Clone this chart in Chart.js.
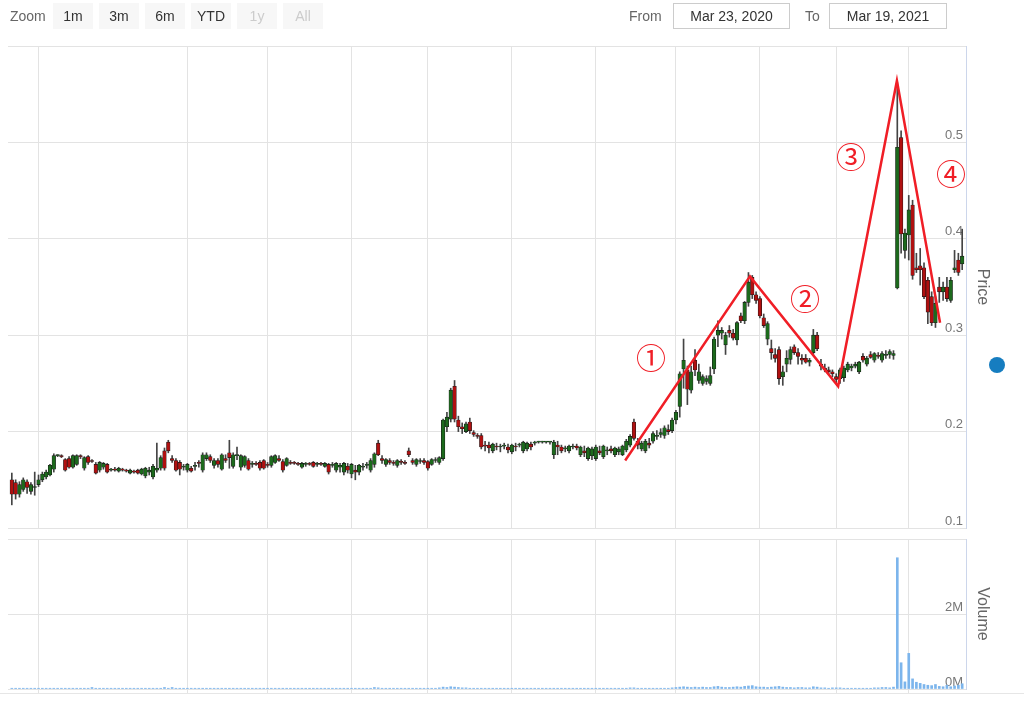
<!DOCTYPE html>
<html>
<head>
<meta charset="utf-8">
<script src="https://cdn.jsdelivr.net/npm/chart.js@4.4.1/dist/chart.umd.min.js"></script>
<style>
  body { margin: 0; background: #fff; font-family: "Liberation Sans", Arial, sans-serif; }
  #wrap { position: relative; width: 1024px; height: 706px; overflow: hidden; }
  canvas { position: absolute; left: 0; }
  .lbl { position: absolute; top: 3px; height: 26px; line-height: 26px; font-size: 14px; color: #666; }
  .btn { position: absolute; top: 3px; width: 40px; height: 26px; line-height: 26px; font-size: 14px;
         text-align: center; background: #f7f7f7; color: #333; }
  .btn.off { color: #ccc; }
  .box { position: absolute; top: 3px; height: 24px; line-height: 24px; font-size: 14px; color: #333;
         text-align: center; border: 1px solid #ccc; background: #fff; }
  #baseLine { position: absolute; left: 0; top: 693px; width: 1024px; height: 1px; background: #e6e6e6; }
  #dot { position: absolute; left: 989px; top: 357px; width: 16px; height: 16px; border-radius: 50%; background: #167dc0; }
</style>
</head>
<body>
<div id="wrap">
  <canvas id="priceChart" width="1024" height="530" style="top:0"></canvas>
  <canvas id="volumeChart" width="1024" height="176" style="top:530px"></canvas>
  <div id="baseLine"></div>
  <div id="dot"></div>

  <div class="lbl" style="left:10px">Zoom</div>
  <div class="btn" style="left:53px">1m</div>
  <div class="btn" style="left:99px">3m</div>
  <div class="btn" style="left:145px">6m</div>
  <div class="btn" style="left:191px">YTD</div>
  <div class="btn off" style="left:237px">1y</div>
  <div class="btn off" style="left:283px">All</div>

  <div class="lbl" style="left:629px">From</div>
  <div class="box" style="left:673px;width:115px">Mar 23, 2020</div>
  <div class="lbl" style="left:805px">To</div>
  <div class="box" style="left:829px;width:116px">Mar 19, 2021</div>
</div>

<script>
// ----------------------
// DATA
// ----------------------
// one row per trading day: [open, high, low, close]
const ohlc = [
  [0.150,0.157,0.124,0.135],[0.147,0.150,0.130,0.135],[0.135,0.148,0.132,0.145],[0.140,0.152,0.138,0.150],[0.148,0.150,0.136,0.142],
  [0.138,0.147,0.135,0.145],[0.142,0.158,0.134,0.143],[0.145,0.155,0.143,0.150],[0.150,0.158,0.148,0.156],[0.153,0.160,0.151,0.158],
  [0.155,0.166,0.154,0.165],[0.161,0.177,0.158,0.175],[0.175,0.176,0.174,0.175],[0.175,0.176,0.173,0.174],[0.171,0.172,0.159,0.160],
  [0.172,0.174,0.162,0.163],[0.163,0.176,0.162,0.175],[0.166,0.176,0.165,0.175],[0.175,0.176,0.172,0.174],[0.162,0.174,0.160,0.173],
  [0.174,0.175,0.166,0.168],[0.170,0.171,0.168,0.169],[0.166,0.168,0.156,0.157],[0.160,0.169,0.158,0.168],[0.163,0.168,0.161,0.167],
  [0.166,0.167,0.157,0.158],[0.160,0.162,0.159,0.161],[0.161,0.163,0.159,0.160],[0.159,0.163,0.158,0.162],[0.161,0.162,0.159,0.160],
  [0.160,0.161,0.158,0.159],[0.157,0.161,0.156,0.160],[0.159,0.160,0.157,0.158],[0.160,0.161,0.156,0.157],[0.156,0.162,0.155,0.161],
  [0.154,0.163,0.152,0.162],[0.158,0.163,0.155,0.160],[0.153,0.166,0.151,0.164],[0.160,0.188,0.158,0.162],[0.162,0.175,0.160,0.173],
  [0.180,0.183,0.160,0.162],[0.189,0.191,0.178,0.180],[0.172,0.175,0.168,0.170],[0.170,0.172,0.159,0.160],[0.168,0.170,0.155,0.161],
  [0.163,0.166,0.160,0.164],[0.160,0.167,0.158,0.166],[0.162,0.164,0.158,0.159],[0.164,0.168,0.160,0.165],[0.168,0.170,0.163,0.167],
  [0.160,0.178,0.158,0.176],[0.172,0.178,0.170,0.176],[0.174,0.176,0.168,0.170],[0.165,0.172,0.162,0.170],[0.170,0.172,0.163,0.166],
  [0.161,0.177,0.160,0.176],[0.172,0.176,0.168,0.170],[0.178,0.191,0.162,0.173],[0.164,0.178,0.162,0.176],[0.175,0.184,0.171,0.176],
  [0.163,0.176,0.160,0.175],[0.165,0.175,0.163,0.174],[0.170,0.172,0.160,0.161],[0.166,0.169,0.163,0.167],[0.167,0.169,0.165,0.166],
  [0.168,0.170,0.160,0.162],[0.170,0.171,0.161,0.162],[0.166,0.168,0.163,0.165],[0.165,0.175,0.163,0.174],[0.168,0.176,0.167,0.175],
  [0.172,0.175,0.169,0.170],[0.169,0.171,0.158,0.160],[0.165,0.173,0.164,0.172],[0.168,0.170,0.166,0.167],[0.168,0.169,0.166,0.167],
  [0.167,0.168,0.165,0.166],[0.163,0.168,0.162,0.167],[0.166,0.168,0.164,0.167],[0.167,0.168,0.165,0.166],[0.168,0.169,0.163,0.164],
  [0.166,0.168,0.164,0.167],[0.167,0.168,0.165,0.166],[0.164,0.168,0.163,0.167],[0.166,0.167,0.156,0.158],[0.165,0.168,0.163,0.166],
  [0.160,0.168,0.158,0.167],[0.163,0.167,0.158,0.165],[0.158,0.168,0.155,0.167],[0.164,0.167,0.157,0.160],[0.156,0.167,0.152,0.166],
  [0.160,0.165,0.150,0.158],[0.158,0.166,0.155,0.165],[0.163,0.167,0.160,0.164],[0.165,0.168,0.162,0.166],[0.160,0.172,0.158,0.170],
  [0.166,0.178,0.163,0.177],[0.188,0.191,0.175,0.176],[0.172,0.175,0.167,0.170],[0.166,0.172,0.164,0.171],[0.170,0.172,0.166,0.168],
  [0.168,0.170,0.165,0.167],[0.165,0.171,0.163,0.170],[0.169,0.171,0.166,0.168],[0.168,0.170,0.166,0.167],[0.180,0.183,0.174,0.176],
  [0.170,0.172,0.166,0.168],[0.166,0.172,0.164,0.171],[0.169,0.172,0.167,0.170],[0.170,0.172,0.166,0.168],[0.169,0.170,0.160,0.162],
  [0.166,0.172,0.165,0.171],[0.170,0.173,0.168,0.171],[0.168,0.174,0.166,0.173],[0.172,0.213,0.170,0.212],[0.205,0.220,0.200,0.215],
  [0.213,0.245,0.210,0.243],[0.247,0.253,0.210,0.213],[0.212,0.216,0.200,0.205],[0.205,0.209,0.198,0.203],[0.200,0.210,0.199,0.208],
  [0.210,0.214,0.198,0.201],[0.199,0.201,0.195,0.197],[0.196,0.198,0.193,0.195],[0.196,0.198,0.182,0.184],[0.186,0.190,0.180,0.185],
  [0.186,0.189,0.178,0.183],[0.180,0.188,0.178,0.187],[0.185,0.188,0.181,0.184],[0.184,0.187,0.179,0.185],[0.185,0.188,0.182,0.186],
  [0.184,0.187,0.178,0.181],[0.179,0.187,0.177,0.186],[0.185,0.188,0.180,0.184],[0.186,0.188,0.184,0.187],[0.180,0.190,0.178,0.189],
  [0.182,0.189,0.180,0.188],[0.187,0.189,0.181,0.184],[0.188,0.190,0.186,0.189],[0.189,0.190,0.188,0.189],[0.189,0.190,0.188,0.189],
  [0.189,0.190,0.188,0.190],[0.189,0.190,0.187,0.189],[0.176,0.191,0.172,0.189],[0.186,0.190,0.176,0.184],[0.184,0.186,0.178,0.180],
  [0.182,0.185,0.179,0.183],[0.180,0.186,0.178,0.185],[0.184,0.187,0.182,0.185],[0.185,0.187,0.181,0.183],[0.176,0.185,0.174,0.184],
  [0.180,0.185,0.174,0.178],[0.172,0.184,0.170,0.183],[0.175,0.184,0.171,0.182],[0.172,0.186,0.170,0.184],[0.180,0.185,0.176,0.178],
  [0.174,0.186,0.172,0.185],[0.180,0.184,0.176,0.181],[0.182,0.185,0.178,0.180],[0.176,0.184,0.174,0.183],[0.179,0.184,0.176,0.182],
  [0.176,0.186,0.175,0.185],[0.181,0.192,0.179,0.190],[0.186,0.197,0.184,0.195],[0.210,0.213,0.191,0.193],[0.190,0.193,0.182,0.186],
  [0.182,0.190,0.180,0.188],[0.180,0.192,0.178,0.190],[0.188,0.193,0.183,0.186],[0.190,0.200,0.188,0.198],[0.195,0.201,0.192,0.196],
  [0.197,0.203,0.194,0.199],[0.196,0.206,0.193,0.204],[0.202,0.207,0.197,0.200],[0.201,0.214,0.199,0.212],[0.212,0.222,0.208,0.220],
  [0.226,0.262,0.215,0.260],[0.265,0.296,0.245,0.274],[0.264,0.268,0.228,0.244],[0.243,0.268,0.240,0.262],[0.274,0.285,0.258,0.264],
  [0.253,0.270,0.250,0.262],[0.250,0.259,0.248,0.257],[0.252,0.258,0.249,0.255],[0.250,0.267,0.248,0.258],[0.265,0.298,0.260,0.296],
  [0.300,0.315,0.288,0.305],[0.302,0.308,0.296,0.305],[0.290,0.303,0.280,0.300],[0.305,0.310,0.298,0.302],[0.302,0.306,0.295,0.297],
  [0.295,0.314,0.290,0.313],[0.320,0.323,0.313,0.315],[0.315,0.335,0.312,0.334],[0.334,0.365,0.330,0.355],[0.360,0.362,0.338,0.342],
  [0.342,0.345,0.333,0.336],[0.338,0.340,0.318,0.320],[0.318,0.322,0.308,0.310],[0.296,0.314,0.290,0.312],[0.286,0.295,0.275,0.282],
  [0.280,0.286,0.272,0.276],[0.285,0.288,0.249,0.255],[0.257,0.268,0.248,0.262],[0.270,0.284,0.262,0.276],[0.275,0.288,0.270,0.285],
  [0.288,0.290,0.280,0.282],[0.282,0.286,0.270,0.278],[0.276,0.280,0.270,0.274],[0.276,0.280,0.271,0.272],[0.272,0.276,0.268,0.274],
  [0.282,0.306,0.280,0.300],[0.300,0.303,0.284,0.286],[0.270,0.275,0.264,0.268],[0.266,0.270,0.262,0.264],[0.264,0.267,0.260,0.262],
  [0.262,0.264,0.257,0.260],[0.257,0.260,0.250,0.254],[0.255,0.266,0.250,0.264],[0.256,0.268,0.252,0.266],[0.264,0.272,0.262,0.270],
  [0.266,0.270,0.263,0.268],[0.268,0.272,0.266,0.270],[0.262,0.273,0.260,0.272],[0.278,0.281,0.272,0.274],[0.270,0.278,0.268,0.276],
  [0.280,0.283,0.276,0.277],[0.274,0.282,0.272,0.281],[0.279,0.282,0.276,0.278],[0.274,0.283,0.272,0.281],[0.279,0.284,0.276,0.280],
  [0.280,0.285,0.276,0.283],[0.279,0.284,0.275,0.281],[0.349,0.562,0.348,0.495],[0.505,0.512,0.385,0.405],[0.388,0.410,0.380,0.406],
  [0.404,0.445,0.378,0.430],[0.435,0.440,0.358,0.362],[0.370,0.385,0.365,0.368],[0.372,0.390,0.352,0.368],[0.370,0.375,0.338,0.340],
  [0.357,0.360,0.312,0.324],[0.340,0.345,0.310,0.313],[0.313,0.340,0.308,0.333],[0.350,0.360,0.334,0.345],[0.345,0.355,0.336,0.350],
  [0.350,0.360,0.335,0.338],[0.336,0.360,0.334,0.357],[0.368,0.388,0.365,0.370],[0.378,0.385,0.362,0.365],[0.374,0.410,0.368,0.382]
];

// daily volume, millions
const volumes = [
  0.02,0.02,0.02,0.02,0.02,0.02,0.02,0.02,0.02,0.02,
  0.02,0.02,0.02,0.02,0.02,0.02,0.02,0.02,0.02,0.02,
  0.02,0.04,0.02,0.02,0.02,0.02,0.02,0.02,0.02,0.02,
  0.02,0.02,0.02,0.02,0.02,0.02,0.02,0.02,0.02,0.02,
  0.04,0.02,0.04,0.02,0.02,0.02,0.02,0.02,0.02,0.02,
  0.02,0.02,0.02,0.02,0.02,0.02,0.02,0.02,0.02,0.02,
  0.02,0.02,0.02,0.02,0.02,0.02,0.02,0.02,0.02,0.02,
  0.02,0.02,0.02,0.02,0.02,0.02,0.02,0.02,0.02,0.02,
  0.02,0.02,0.02,0.02,0.02,0.02,0.02,0.02,0.02,0.02,
  0.02,0.02,0.02,0.02,0.02,0.04,0.03,0.02,0.02,0.02,
  0.02,0.02,0.02,0.02,0.02,0.02,0.02,0.02,0.02,0.02,
  0.02,0.02,0.03,0.05,0.04,0.06,0.05,0.04,0.03,0.03,
  0.02,0.02,0.02,0.02,0.02,0.02,0.02,0.02,0.02,0.02,
  0.02,0.02,0.02,0.02,0.02,0.02,0.02,0.02,0.02,0.02,
  0.02,0.02,0.02,0.02,0.02,0.02,0.02,0.02,0.02,0.02,
  0.02,0.02,0.02,0.02,0.02,0.02,0.02,0.02,0.02,0.02,
  0.02,0.02,0.03,0.03,0.02,0.02,0.02,0.02,0.02,0.02,
  0.02,0.02,0.02,0.03,0.04,0.05,0.06,0.05,0.04,0.05,
  0.04,0.05,0.04,0.04,0.06,0.07,0.05,0.04,0.04,0.05,
  0.06,0.05,0.07,0.08,0.09,0.06,0.05,0.05,0.04,0.05,
  0.06,0.07,0.05,0.04,0.04,0.03,0.04,0.04,0.03,0.03,
  0.06,0.05,0.03,0.03,0.02,0.03,0.03,0.03,0.02,0.02,
  0.02,0.02,0.02,0.02,0.02,0.02,0.03,0.03,0.04,0.04,
  0.03,0.05,3.50,0.70,0.19,0.95,0.27,0.18,0.15,0.12,
  0.10,0.09,0.12,0.07,0.06,0.10,0.06,0.08,0.10,0.14
];

// day index of each vertical grid line (month starts)
const gridIdx = [7, 46, 67, 89, 109, 131, 153, 174, 196, 216, 235];
const priceTicks = [0.1, 0.2, 0.3, 0.4, 0.5, 0.6];
const volumeTicks = [0, 2, 4];

// hand drawn red zigzag and its circled labels
const zigIdx = [160.7, 193.4, 216.5, 231.9, 243.2];
const zigPrice = [0.170, 0.361, 0.247, 0.564, 0.313];
const markLabels = ["①", "②", "③", "④"];
const markIdx = [167.5, 207.8, 219.9, 246.1];
const markPrice = [0.277, 0.338, 0.485, 0.468];

// ----------------------
// STYLE
// ----------------------
const GRID = "#e3e3e3";
const AXIS_LINE = "#ccd6eb";
const UP = "#1c6a1c";
const DOWN = "#b01010";
const RED = "#f01e26";
const labelFont = { family: "Liberation Sans", size: 13 };
const titleFont = { family: "Liberation Sans", size: 16 };

function xScale(showTicks) {
  return {
    type: "linear",
    min: -1,
    max: ohlc.length,
    offset: false,
    afterBuildTicks: s => { s.ticks = gridIdx.map(v => ({ value: v })); },
    afterFit: s => { s.height = showTicks ? 4 : 0; },
    ticks: { display: false },
    grid: { color: GRID, offset: false, drawTicks: showTicks, tickLength: 4 },
    border: { display: false }
  };
}

// right axis, labels drawn inside the plot just left of the axis line
function yAxis(min, max, ticks, fmt, title) {
  return {
    type: "linear",
    position: "right",
    min,
    max,
    afterBuildTicks: s => { s.ticks = ticks.map(v => ({ value: v })); },
    afterFit: s => {
      s.width = 58;
      s.paddingTop = 0;
      s.paddingBottom = 0;
    },
    grid: { color: GRID, drawTicks: false },
    border: { display: true, color: AXIS_LINE },
    ticks: { mirror: true, padding: -3, labelOffset: -7, color: "#777", font: labelFont, callback: fmt },
    title: { display: true, text: title, color: "#666", font: titleFont, padding: { top: 32, bottom: 0 } }
  };
}

// circled numbers next to the zigzag
const markPlugin = {
  id: "marks",
  afterDatasetsDraw(chart) {
    const { ctx, scales: { x, y } } = chart;
    ctx.save();
    ctx.font = '30px "Noto Sans CJK JP"';
    ctx.fillStyle = RED;
    ctx.textAlign = "center";
    ctx.textBaseline = "middle";
    markLabels.forEach((t, k) => {
      ctx.fillText(t, x.getPixelForValue(markIdx[k]), y.getPixelForValue(markPrice[k]));
    });
    ctx.restore();
  }
};

// ----------------------
// PRICE CHART
// ----------------------
new Chart(document.getElementById("priceChart"), {
  type: "bar",
  data: {
    datasets: [
      {
        type: "line",
        data: zigIdx.map((v, k) => ({ x: v, y: zigPrice[k] })),
        borderColor: RED,
        borderWidth: 2.5,
        pointRadius: 0,
        tension: 0,
        order: 0
      },
      {
        data: ohlc.map((c, i) => ({ x: i, y: [c[0], c[3]] })),
        backgroundColor: ohlc.map(c => c[3] >= c[0] ? UP : DOWN),
        borderColor: "#1a1a1a",
        borderWidth: 0.6,
        borderSkipped: false,
        barThickness: 3.6,
        minBarLength: 1,
        grouped: false,
        order: 1
      },
      {
        data: ohlc.map((c, i) => ({ x: i, y: [c[2], c[1]] })),
        backgroundColor: "#444",
        barThickness: 1,
        grouped: false,
        order: 2
      }
    ]
  },
  options: {
    responsive: false,
    animation: false,
    devicePixelRatio: 1,
    layout: { padding: { left: 8, right: 0, top: 46, bottom: 2 } },
    plugins: { legend: { display: false }, tooltip: { enabled: false } },
    scales: {
      x: xScale(false),
      y: yAxis(0.1, 0.6, priceTicks, v => v >= 0.6 ? "" : v.toFixed(1), "Price")
    }
  },
  plugins: [markPlugin]
});

// ----------------------
// VOLUME CHART
// ----------------------
new Chart(document.getElementById("volumeChart"), {
  type: "bar",
  data: {
    datasets: [{
      data: volumes.map((v, i) => ({ x: i, y: v })),
      backgroundColor: "#7cb5ec",
      barThickness: 2
    }]
  },
  options: {
    responsive: false,
    animation: false,
    devicePixelRatio: 1,
    layout: { padding: { left: 8, right: 0, top: 9, bottom: 13 } },
    plugins: { legend: { display: false }, tooltip: { enabled: false } },
    scales: {
      x: xScale(true),
      y: yAxis(0, 4, volumeTicks, v => v >= 4 ? "" : v + "M", "Volume")
    }
  }
});
</script>
</body>
</html>
